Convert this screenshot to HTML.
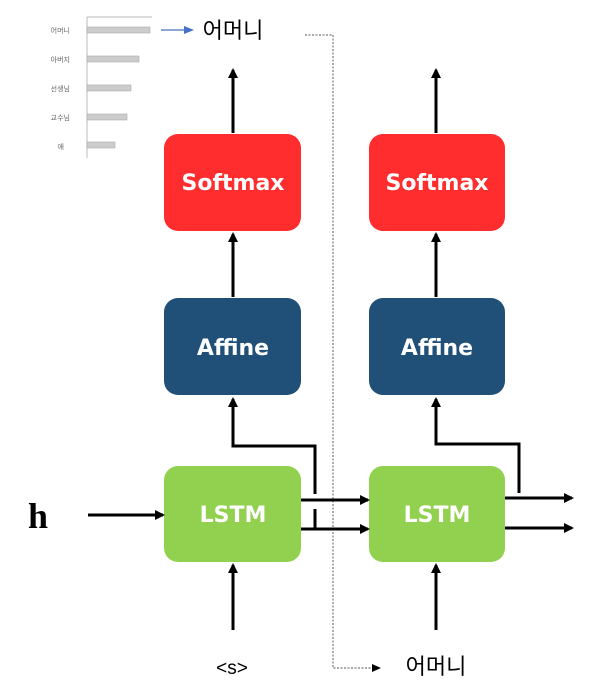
<!DOCTYPE html>
<html><head><meta charset="utf-8"><style>
html,body{margin:0;padding:0;background:#fff;width:601px;height:692px;overflow:hidden}
</style></head><body>
<svg width="601" height="692" viewBox="0 0 601 692" xmlns="http://www.w3.org/2000/svg">
<defs>
<marker id="a" markerWidth="10" markerHeight="10" refX="8" refY="5" orient="auto" markerUnits="userSpaceOnUse"><path d="M0,0 L10,5 L0,10 z" fill="#000"/></marker>
<marker id="ab" markerWidth="10" markerHeight="10" refX="8" refY="5" orient="auto" markerUnits="userSpaceOnUse"><path d="M0,1 L10,5 L0,9 z" fill="#4472c4"/></marker>
</defs>
<!-- chart -->
<g font-family="'Liberation Sans','Noto Sans CJK KR',sans-serif" font-size="7" fill="#666" text-anchor="end">
<line x1="87" y1="17" x2="87" y2="158" stroke="#bbb" stroke-width="1"/>
<line x1="87" y1="17" x2="152" y2="17" stroke="#bbb" stroke-width="1"/>
<rect x="87" y="27" width="63" height="6" fill="#ccc" stroke="#aaa" stroke-width="0.6"/>
<rect x="87" y="56" width="52" height="6" fill="#ccc" stroke="#aaa" stroke-width="0.6"/>
<rect x="87" y="85" width="44" height="6" fill="#ccc" stroke="#aaa" stroke-width="0.6"/>
<rect x="87" y="114" width="40" height="6" fill="#ccc" stroke="#aaa" stroke-width="0.6"/>
<rect x="87" y="142" width="28" height="6" fill="#ccc" stroke="#aaa" stroke-width="0.6"/>
<text x="70" y="33">어머니</text>
<text x="70" y="62">아버지</text>
<text x="70" y="91">선생님</text>
<text x="70" y="120">교수님</text>
<text x="64" y="149">애</text>
</g>
<line x1="161" y1="30" x2="192" y2="30" stroke="#4472c4" stroke-width="1.2" marker-end="url(#ab)"/>
<g font-family="'Liberation Sans','Noto Sans CJK KR',sans-serif" font-size="22" fill="#000" text-anchor="middle">
<text x="233" y="38">어머니</text>
<text x="436" y="674">어머니</text>
<text x="232" y="674" font-size="19">&lt;s&gt;</text>
</g>
<text x="38" y="528" font-family="'Liberation Serif',serif" font-weight="bold" font-size="36" text-anchor="middle">h</text>
<!-- dotted -->
<polyline points="305,35 333,35 333,668 372,668" fill="none" stroke="#777" stroke-width="1.2" stroke-dasharray="2,1.5"/>
<path d="M372,664 L381,668 L372,672 z" fill="#000"/>
<!-- boxes -->
<g font-family="'DejaVu Sans','Liberation Sans',sans-serif" font-weight="bold" font-size="22" fill="#fff" text-anchor="middle">
<rect x="164" y="134" width="137" height="97" rx="14" fill="#ff2d2d"/>
<rect x="369" y="134" width="136" height="97" rx="14" fill="#ff2d2d"/>
<rect x="164" y="298" width="137" height="97" rx="14" fill="#204f78"/>
<rect x="369" y="298" width="136" height="97" rx="14" fill="#204f78"/>
<rect x="164" y="466" width="137" height="96" rx="14" fill="#92d050"/>
<rect x="369" y="466" width="136" height="96" rx="14" fill="#92d050"/>
<text x="233" y="190">Softmax</text><text x="437" y="190">Softmax</text>
<text x="233" y="355">Affine</text><text x="437" y="355">Affine</text>
<text x="233" y="522">LSTM</text><text x="437" y="522">LSTM</text>
</g>
<!-- arrows -->
<g stroke="#000" stroke-width="3" fill="none">
<line x1="233" y1="133" x2="233" y2="70" marker-end="url(#a)"/>
<line x1="436" y1="133" x2="436" y2="70" marker-end="url(#a)"/>
<line x1="233" y1="297" x2="233" y2="234" marker-end="url(#a)"/>
<line x1="436" y1="297" x2="436" y2="234" marker-end="url(#a)"/>
<polyline points="315,494 315,446 233,446 233,399" marker-end="url(#a)"/>
<polyline points="519,493 519,444 436,444 436,399" marker-end="url(#a)"/>
<line x1="315" y1="509" x2="315" y2="529"/>
<line x1="88" y1="515" x2="163" y2="515" marker-end="url(#a)"/>
<line x1="301" y1="500" x2="368" y2="500" marker-end="url(#a)"/>
<line x1="301" y1="529" x2="368" y2="529" marker-end="url(#a)"/>
<line x1="505" y1="498" x2="572" y2="498" marker-end="url(#a)"/>
<line x1="505" y1="528" x2="572" y2="528" marker-end="url(#a)"/>
<line x1="233" y1="630" x2="233" y2="565" marker-end="url(#a)"/>
<line x1="436" y1="630" x2="436" y2="565" marker-end="url(#a)"/>
</g>
</svg>
</body></html>
